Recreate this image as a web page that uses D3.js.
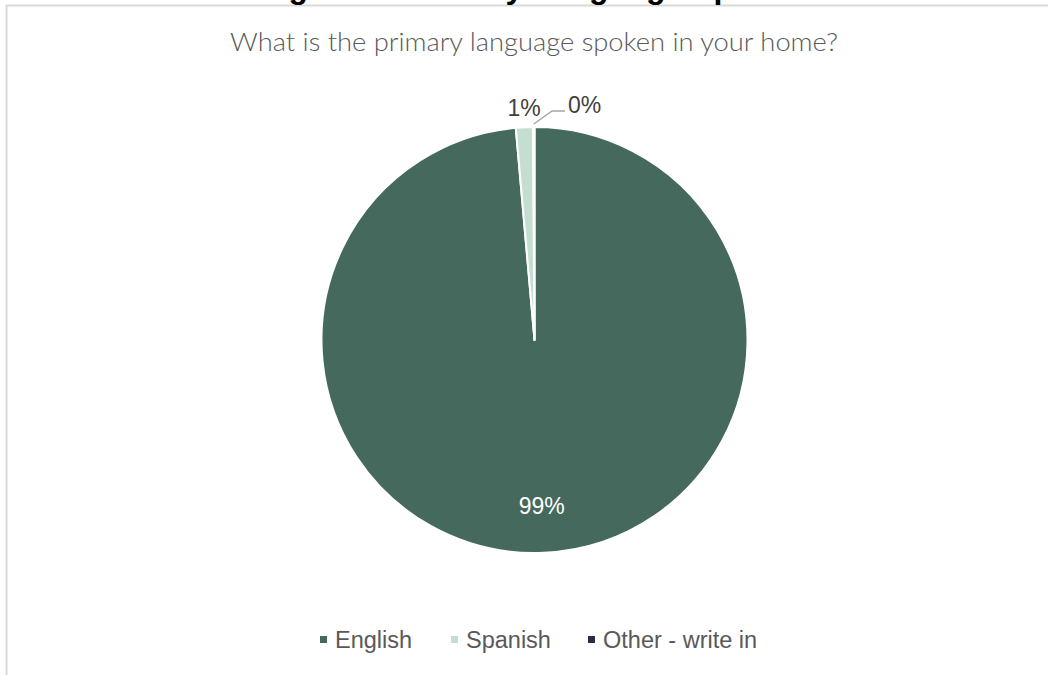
<!DOCTYPE html>
<html>
<head>
<meta charset="utf-8">
<script src="https://cdn.jsdelivr.net/npm/d3@7/dist/d3.min.js"></script>
<style>
  html, body { margin: 0; padding: 0; background: #ffffff; overflow: hidden; }
  svg { display: block; }
</style>
</head>
<body>
<svg id="chart" width="1049" height="675"></svg>
<script>
// Survey answers: share of respondents by primary home language
const categories = ["English", "Spanish", "Other - write in"];
const shares = [0.986, 0.013, 0.001];
const colors = ["#45695c", "#c4dfd1", "#2b2d47"];

const figureTitle = "Figure 5: Primary Language Spoken";
const question = "What is the primary language spoken in your home?";

const svg = d3.select("#chart");

// Chart frame (top and left edges visible)
svg.append("path")
  .attr("d", "M6.5,675 L6.5,5.5 L1048,5.5")
  .attr("fill", "none")
  .attr("stroke", "#d9d9d9")
  .attr("stroke-width", 2);

// Figure heading sitting above the frame
svg.append("text")
  .attr("x", 260)
  .attr("y", -2)
  .attr("font-family", "Liberation Sans, Arial, sans-serif")
  .attr("font-weight", "bold")
  .attr("font-size", 32)
  .attr("fill", "#000000")
  .text(figureTitle);

// Question subtitle
svg.append("text")
  .attr("x", 534)
  .attr("y", 51)
  .attr("text-anchor", "middle")
  .attr("font-family", "Lato, sans-serif")
  .attr("font-weight", 300)
  .attr("font-size", 26)
  .attr("fill", "#595959")
  .attr("textLength", 608)
  .attr("lengthAdjust", "spacingAndGlyphs")
  .text(question);

// Pie
const cx = 534.5, cy = 340, radius = 213;
const data = categories.map((c, i) => ({ name: c, value: shares[i], color: colors[i] }));

const pie = d3.pie().value(d => d.value).sort(null);
const arcs = pie(data);
const arc = d3.arc().innerRadius(0).outerRadius(radius);

const g = svg.append("g").attr("transform", `translate(${cx},${cy})`);

g.selectAll("path.slice")
  .data(arcs)
  .join("path")
  .attr("class", "slice")
  .attr("d", arc)
  .attr("fill", d => d.data.color)
  .attr("stroke", "#ffffff")
  .attr("stroke-width", 2)
  .attr("stroke-linejoin", "round");

const fmt = d3.format(".0%");
const labelFont = "Liberation Sans, Arial, sans-serif";

// Inside label for the large slice
const inner = d3.arc().innerRadius(radius * 0.78).outerRadius(radius * 0.78);
g.append("text")
  .datum(arcs[0])
  .attr("transform", d => `translate(${inner.centroid(d)})`)
  .attr("text-anchor", "middle")
  .attr("dy", "0.35em")
  .attr("font-family", labelFont)
  .attr("font-size", 23)
  .attr("fill", "#ffffff")
  .text(d => fmt(d.data.value));

// Outside label for Spanish
g.append("text")
  .datum(arcs[1])
  .attr("x", 524 - cx)
  .attr("y", 116 - cy)
  .attr("text-anchor", "middle")
  .attr("font-family", labelFont)
  .attr("font-size", 23)
  .attr("fill", "#404040")
  .text(d => fmt(d.data.value));

// Outside label for Other, with a leader line
const edge = d3.arc().innerRadius(radius + 2).outerRadius(radius + 2).centroid(arcs[2]);
g.append("polyline")
  .attr("points", [[edge[0], edge[1] - 1], [552 - cx, 111 - cy], [565 - cx, 111 - cy]].map(p => p.join(",")).join(" "))
  .attr("fill", "none")
  .attr("stroke", "#a6a6a6")
  .attr("stroke-width", 1.5);
g.append("text")
  .datum(arcs[2])
  .attr("x", 568 - cx)
  .attr("y", 113 - cy)
  .attr("font-family", labelFont)
  .attr("font-size", 23)
  .attr("fill", "#404040")
  .text(d => fmt(d.data.value));

// Legend
const legendX = [320, 451, 588];
const legend = svg.append("g");
const items = legend.selectAll("g")
  .data(data)
  .join("g")
  .attr("transform", (d, i) => `translate(${legendX[i]},640)`);
items.append("rect")
  .attr("x", 0).attr("y", -4)
  .attr("width", 7).attr("height", 7)
  .attr("fill", d => d.color);
items.append("text")
  .attr("x", 15)
  .attr("y", 0)
  .attr("dy", "0.35em")
  .attr("font-family", labelFont)
  .attr("font-size", 23.5)
  .attr("fill", "#595959")
  .text(d => d.name);
</script>
</body>
</html>
